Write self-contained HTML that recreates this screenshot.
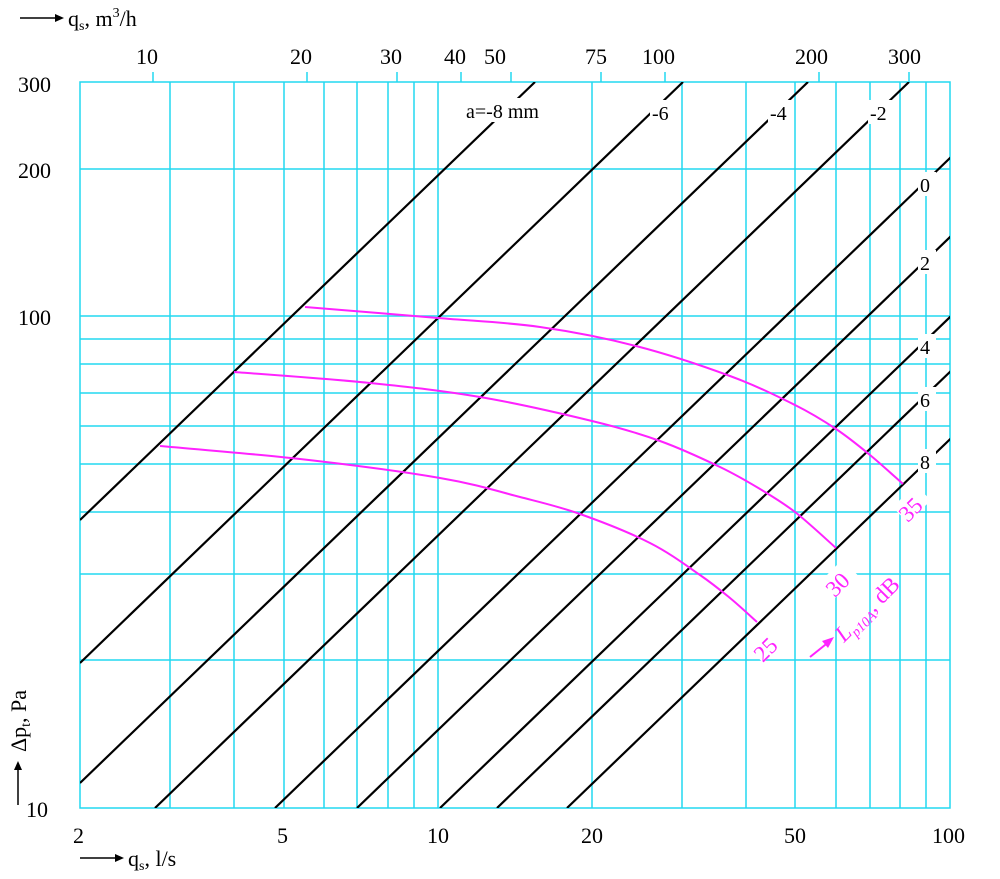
<!DOCTYPE html>
<html><head><meta charset="utf-8"><style>
html,body{margin:0;padding:0;background:#fff}
svg{display:block}
text{font-family:"Liberation Serif",serif;font-size:22px;fill:#000}
</style></head><body>
<svg width="1000" height="879" viewBox="0 0 1000 879" xmlns="http://www.w3.org/2000/svg">
<g stroke="#22d8f0" stroke-width="1.5" fill="none">
<rect x="80" y="82" width="870" height="726"/>
<line x1="170" y1="82" x2="170" y2="808"/>
<line x1="234" y1="82" x2="234" y2="808"/>
<line x1="284" y1="82" x2="284" y2="808"/>
<line x1="324" y1="82" x2="324" y2="808"/>
<line x1="357" y1="82" x2="357" y2="808"/>
<line x1="388" y1="82" x2="388" y2="808"/>
<line x1="414" y1="82" x2="414" y2="808"/>
<line x1="438" y1="82" x2="438" y2="808"/>
<line x1="592" y1="82" x2="592" y2="808"/>
<line x1="682" y1="82" x2="682" y2="808"/>
<line x1="746" y1="82" x2="746" y2="808"/>
<line x1="795" y1="82" x2="795" y2="808"/>
<line x1="836" y1="82" x2="836" y2="808"/>
<line x1="870" y1="82" x2="870" y2="808"/>
<line x1="900" y1="82" x2="900" y2="808"/>
<line x1="926" y1="82" x2="926" y2="808"/>
<line x1="80" y1="169" x2="950" y2="169"/>
<line x1="80" y1="316" x2="950" y2="316"/>
<line x1="80" y1="339" x2="950" y2="339"/>
<line x1="80" y1="364" x2="950" y2="364"/>
<line x1="80" y1="393" x2="950" y2="393"/>
<line x1="80" y1="426" x2="950" y2="426"/>
<line x1="80" y1="464" x2="950" y2="464"/>
<line x1="80" y1="512" x2="950" y2="512"/>
<line x1="80" y1="574" x2="950" y2="574"/>
<line x1="80" y1="660" x2="950" y2="660"/>
<line x1="153" y1="72" x2="153" y2="82"/>
<line x1="307" y1="72" x2="307" y2="82"/>
<line x1="397" y1="72" x2="397" y2="82"/>
<line x1="461" y1="72" x2="461" y2="82"/>
<line x1="511" y1="72" x2="511" y2="82"/>
<line x1="601" y1="72" x2="601" y2="82"/>
<line x1="665" y1="72" x2="665" y2="82"/>
<line x1="819" y1="72" x2="819" y2="82"/>
<line x1="909" y1="72" x2="909" y2="82"/>
</g>
<defs><clipPath id="c"><rect x="80" y="82" width="870" height="726"/></clipPath></defs>
<g stroke="#000" stroke-width="2.2" clip-path="url(#c)">
<line x1="80" y1="520" x2="535" y2="82"/>
<line x1="80" y1="663" x2="683" y2="82"/>
<line x1="80" y1="783" x2="808" y2="82"/>
<line x1="155" y1="808" x2="909" y2="82"/>
<line x1="275" y1="808" x2="1030" y2="81"/>
<line x1="357" y1="808" x2="1110" y2="83"/>
<line x1="440" y1="808" x2="1190" y2="86"/>
<line x1="497" y1="808" x2="1250" y2="83"/>
<line x1="567" y1="808" x2="1320" y2="83"/>
</g>
<g fill="#fff">
<rect x="463" y="98" width="95" height="24"/>
<rect x="650" y="100" width="26" height="24"/>
<rect x="768" y="100" width="26" height="24"/>
<rect x="868" y="100" width="26" height="24"/>
<rect x="918" y="172" width="18" height="24"/>
<rect x="918" y="250" width="18" height="24"/>
<rect x="918" y="334" width="18" height="24"/>
<rect x="918" y="387" width="18" height="24"/>
<rect x="918" y="449" width="18" height="24"/>
</g>
<text x="466" y="118" style="font-size:20px">a=-8 mm</text>
<text x="652" y="120" style="font-size:20px">-6</text>
<text x="770" y="120" style="font-size:20px">-4</text>
<text x="870" y="120" style="font-size:20px">-2</text>
<text x="920" y="192" style="font-size:20px">0</text>
<text x="920" y="270" style="font-size:20px">2</text>
<text x="920" y="354" style="font-size:20px">4</text>
<text x="920" y="407" style="font-size:20px">6</text>
<text x="920" y="469" style="font-size:20px">8</text>
<g stroke="#ff22ff" stroke-width="2" fill="none">
<path id="c35" d=""/>
<path id="c30" d=""/>
<path id="c25" d=""/>
<line x1="810" y1="657" x2="830" y2="641"/>
<path d="M822,641 L834,637 L828,648 Z" fill="#ff22ff" stroke="none"/>
</g>
<g fill="#fff">
<rect x="-16" y="-17" width="32" height="22" transform="translate(916,508) rotate(-45)"/>
<rect x="-16" y="-17" width="32" height="22" transform="translate(843,583) rotate(-45)"/>
<rect x="-16" y="-17" width="32" height="22" transform="translate(771,648) rotate(-45)"/>
</g>
<text text-anchor="middle" transform="translate(916,515) rotate(-45)" style="fill:#ff22ff;font-size:23px">35</text>
<text text-anchor="middle" transform="translate(843,590) rotate(-45)" style="fill:#ff22ff;font-size:23px">30</text>
<text text-anchor="middle" transform="translate(771,655) rotate(-45)" style="fill:#ff22ff;font-size:23px">25</text>
<text transform="translate(844,643) rotate(-45)" style="fill:#ff22ff;font-size:23px"><tspan font-style="italic">L</tspan><tspan font-style="italic" font-size="14" dy="5">p10A</tspan><tspan dy="-5">, dB</tspan></text>
<text x="18" y="92">300</text>
<text x="18" y="178">200</text>
<text x="18" y="325">100</text>
<text x="26" y="817">10</text>
<text x="73" y="843">2</text>
<text x="277" y="843">5</text>
<text x="427" y="843">10</text>
<text x="581" y="843">20</text>
<text x="784" y="843">50</text>
<text x="932" y="843">100</text>
<text x="136" y="64">10</text>
<text x="290" y="64">20</text>
<text x="380" y="64">30</text>
<text x="444" y="64">40</text>
<text x="484" y="64">50</text>
<text x="585" y="64">75</text>
<text x="642" y="64">100</text>
<text x="795" y="64">200</text>
<text x="888" y="64">300</text>
<line x1="20" y1="18" x2="55" y2="18" stroke="#000" stroke-width="1.5"/>
<path d="M55,14 L64,18 L55,22 Z"/>
<text x="68" y="26">q<tspan font-size="14" dy="4">s</tspan><tspan dy="-4">, m</tspan><tspan font-size="14" dy="-9">3</tspan><tspan dy="9">/h</tspan></text>
<line x1="80" y1="858" x2="115" y2="858" stroke="#000" stroke-width="1.5"/>
<path d="M115,854 L124,858 L115,862 Z"/>
<text x="128" y="866">q<tspan font-size="14" dy="4">s</tspan><tspan dy="-4">, l/s</tspan></text>
<line x1="18" y1="805" x2="18" y2="770" stroke="#000" stroke-width="1.5"/>
<path d="M14,770 L18,761 L22,770 Z"/>
<text transform="translate(26,752) rotate(-90)">Δp<tspan font-size="14" dy="4">t</tspan><tspan dy="-4">, Pa</tspan></text>
</svg>
<script>
function cr(p){var d="M"+p[0][0]+","+p[0][1];for(var i=0;i<p.length-1;i++){var p0=p[i-1]||p[i],p1=p[i],p2=p[i+1],p3=p[i+2]||p2;
var c1=[p1[0]+(p2[0]-p0[0])/6,p1[1]+(p2[1]-p0[1])/6],c2=[p2[0]-(p3[0]-p1[0])/6,p2[1]-(p3[1]-p1[1])/6];
d+=" C"+c1[0].toFixed(1)+","+c1[1].toFixed(1)+" "+c2[0].toFixed(1)+","+c2[1].toFixed(1)+" "+p2[0]+","+p2[1];}return d;}
document.getElementById("c35").setAttribute("d",cr([[305,307],[438,318],[540,327],[636,346],[730,376],[795,405],[836,429],[870,455],[903,484]]));
document.getElementById("c30").setAttribute("d",cr([[234,372],[370,383],[480,397],[592,421],[660,441],[720,467],[760,489],[795,512],[836,548]]));
document.getElementById("c25").setAttribute("d",cr([[160,446],[300,459],[440,478],[520,497],[580,514],[650,543],[700,575],[730,598],[757,622]]));
</script>
</body></html>
